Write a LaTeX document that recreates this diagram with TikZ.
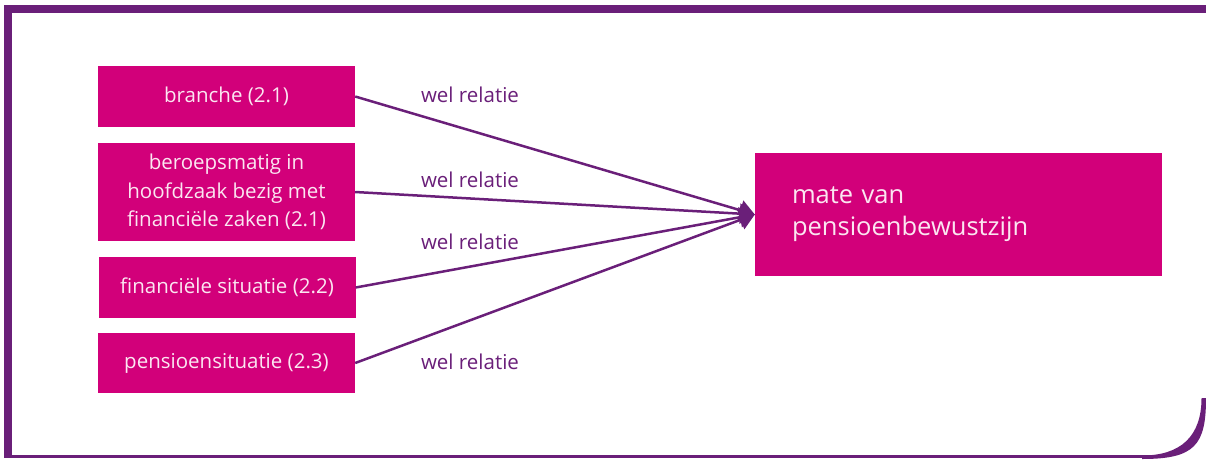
\documentclass[tikz,border=0pt]{standalone}
\usepackage{fontspec}
\setmainfont{Open Sans}
\usetikzlibrary{positioning,arrows.meta}
\definecolor{kader}{HTML}{6A1F79}
\definecolor{vlak}{HTML}{D2007A}
\definecolor{roze}{HTML}{FBE6F1}

\begin{document}
\begin{tikzpicture}[
  x=1pt, y=-1pt,
  >={Triangle[length=15pt,width=20pt]},
  factor/.style   = {rectangle, fill=vlak, text=roze, minimum width=257pt,
                     inner sep=0pt, align=center, font=\fontsize{20.5}{28.5}\selectfont},
  uitkomst/.style = {rectangle, fill=vlak, text=roze, minimum width=407pt,
                     minimum height=123pt, inner xsep=37pt, text width=333pt,
                     align=left, font=\fontsize{25.5}{32}\selectfont},
  relatie/.style  = {->, draw=kader, line width=2.5pt},
  lbl/.style      = {text=kader, inner sep=0pt, font=\fontsize{20.5}{24}\selectfont},
]
\useasboundingbox (0,0) rectangle (1206,459);

% Frame: heavy top and left bar, thin bottom line, rounded corner
\fill[kader] (4,5) rectangle (1206,13);
\fill[kader] (4,5) rectangle (12,458);
\fill[kader] (4,455) rectangle (1150,458);
\fill[kader] (1206,398) .. controls (1206,445) and (1195,459) .. (1142,459)
  -- (1142,455.5) .. controls (1181,455.5) and (1201.5,436) .. (1201.5,398) -- cycle;

% Factors on the left
\node[factor, minimum height=61pt] (branche) at (226.5,96.5) {branche (2.1)};
\node[factor, minimum height=98pt] (beroep) at (226.5,192)
  {beroepsmatig in\\hoofdzaak bezig met\\financiële zaken (2.1)};
\node[factor, minimum height=61pt] (financ) at (227,287.5) {financiële situatie (2.2)};
\node[factor, minimum height=60pt] (pensioen) at (226.5,363) {pensioensituatie (2.3)};

% Outcome on the right
\node[uitkomst] (mate) at (958.5,214.5) {mate van\\pensioenbewustzijn};

% Connectors
\draw[relatie] (branche.east) -- (mate.west);
\draw[relatie] (beroep.east) -- (mate.west);
\draw[relatie] (financ.east) -- (mate.west);
\draw[relatie] (pensioen.east) -- (mate.west);

% Labels
\node[lbl] (lbl1) at (470,95) {wel relatie};
\node[lbl] (lbl2) at (470,180) {wel relatie};
\node[lbl] (lbl3) at (470,242) {wel relatie};
\node[lbl] (lbl4) at (470,362) {wel relatie};
\end{tikzpicture}
\end{document}
